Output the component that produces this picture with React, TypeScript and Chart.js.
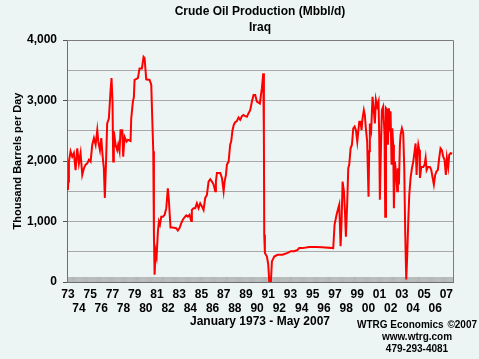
import React, { useEffect, useRef } from 'react';
import { Chart, registerables } from 'chart.js';

Chart.register(...registerables);

// ---- Data ----
// Decimal year of each reading
const periods: number[] = [
  1973.0, 1973.04, 1973.09, 1973.24, 1973.39, 1973.54, 1973.69, 1973.84, 1973.99, 1974.14,
  1974.29, 1974.44, 1974.59, 1974.74, 1974.89, 1975.04, 1975.19, 1975.34, 1975.49, 1975.64,
  1975.73, 1975.88, 1976.0, 1976.11, 1976.23, 1976.32, 1976.41, 1976.53, 1976.68, 1976.83,
  1976.92, 1977.01, 1977.07, 1977.13, 1977.28, 1977.43, 1977.52, 1977.64, 1977.73, 1977.88,
  1977.97, 1978.09, 1978.27, 1978.4, 1978.63, 1978.69, 1978.84, 1978.93, 1978.99, 1979.29,
  1979.44, 1979.65, 1979.8, 1979.89, 1980.04, 1980.34, 1980.49, 1980.58, 1980.67, 1980.73,
  1980.79, 1980.88, 1980.97, 1981.09, 1981.18, 1981.27, 1981.39, 1981.54, 1981.69, 1981.84,
  1981.98, 1982.07, 1982.22, 1982.43, 1982.73, 1982.88, 1983.03, 1983.18, 1983.33, 1983.48,
  1983.63, 1983.78, 1983.93, 1984.08, 1984.14, 1984.29, 1984.44, 1984.59, 1984.74, 1984.89,
  1985.04, 1985.19, 1985.34, 1985.49, 1985.64, 1985.79, 1985.94, 1986.09, 1986.24, 1986.3,
  1986.39, 1986.69, 1986.84, 1986.99, 1987.08, 1987.2, 1987.29, 1987.44, 1987.58, 1987.67,
  1987.79, 1987.91, 1988.03, 1988.18, 1988.33, 1988.48, 1988.63, 1988.78, 1988.93, 1989.08,
  1989.23, 1989.38, 1989.53, 1989.68, 1989.83, 1989.98, 1990.25, 1990.34, 1990.43, 1990.55,
  1990.61, 1990.64, 1990.7, 1990.88, 1991.0, 1991.09, 1991.24, 1991.33, 1991.54, 1991.84,
  1992.29, 1992.74, 1993.04, 1993.34, 1993.63, 1993.78, 1994.08, 1994.68, 1995.28, 1995.82,
  1996.84, 1996.96, 1997.14, 1997.29, 1997.38, 1997.5, 1997.59, 1997.68, 1997.8, 1997.89,
  1997.98, 1998.1, 1998.19, 1998.28, 1998.4, 1998.52, 1998.64, 1998.76, 1998.88, 1999.0,
  1999.09, 1999.18, 1999.3, 1999.38, 1999.47, 1999.59, 1999.68, 1999.77, 1999.89, 2000.01,
  2000.07, 2000.13, 2000.25, 2000.37, 2000.49, 2000.58, 2000.67, 2000.79, 2000.91, 2000.97,
  2001.03, 2001.12, 2001.21, 2001.33, 2001.45, 2001.51, 2001.58, 2001.69, 2001.75, 2001.84,
  2001.93, 2001.99, 2002.08, 2002.14, 2002.23, 2002.29, 2002.38, 2002.47, 2002.59, 2002.65,
  2002.74, 2002.83, 2002.89, 2003.01, 2003.13, 2003.22, 2003.31, 2003.4, 2003.49, 2003.58,
  2003.67, 2003.79, 2003.91, 2004.03, 2004.15, 2004.24, 2004.33, 2004.39, 2004.48, 2004.57,
  2004.63, 2004.75, 2004.93, 2005.05, 2005.14, 2005.23, 2005.35, 2005.53, 2005.65, 2005.77,
  2005.88, 2006.0, 2006.12, 2006.24, 2006.36, 2006.48, 2006.6, 2006.72, 2006.84, 2006.96,
  2007.05, 2007.17, 2007.26, 2007.38, 2007.53,
];

// Thousand barrels per day
const production: number[] = [
  1520, 1660, 1990, 2160, 2070, 2130, 1850, 2210, 1960, 2130,
  1770, 1880, 1940, 1960, 2020, 1990, 2270, 2380, 2270, 2510,
  2320, 2180, 2380, 2100, 1880, 1390, 1880, 2620, 2700, 3150,
  3370, 2980, 1990, 2490, 2270, 2180, 2270, 2160, 2510, 2510,
  2070, 2400, 2320, 2350, 2330, 2700, 2980, 3060, 3340, 3370,
  3530, 3530, 3720, 3700, 3350, 3340, 3260, 2700, 2160, 780,
  120, 510, 420, 840, 1000, 950, 1080, 1080, 1110, 1220,
  1550, 1360, 900, 900, 890, 850, 890, 970, 1030, 1070,
  1100, 1080, 1110, 1010, 1190, 1220, 1220, 1300, 1220, 1300,
  1250, 1190, 1390, 1440, 1660, 1700, 1660, 1610, 1500, 1660,
  1800, 1800, 1720, 1500, 1660, 1770, 1940, 1990, 2270, 2320,
  2510, 2600, 2640, 2660, 2720, 2680, 2740, 2760, 2740, 2730,
  2790, 2840, 2980, 3090, 3090, 2980, 2950, 3090, 3200, 3450,
  2430, 780, 480, 420, 290, 10, 10, 340, 420, 450,
  450, 480, 510, 510, 530, 560, 560, 580, 580, 575,
  560, 950, 1110, 1220, 1280, 590, 1000, 1660, 1500, 1170,
  750, 1330, 1880, 1940, 2210, 2270, 2540, 2570, 2510, 2320,
  2490, 2650, 2650, 2510, 2700, 2840, 2760, 2540, 2320, 1410,
  2160, 2620, 2510, 3060, 2820, 2620, 3010, 2900, 2980, 2430,
  1360, 2160, 2840, 2900, 2430, 1080, 2870, 2840, 2270, 2870,
  2490, 2820, 1940, 2540, 2270, 1220, 1990, 1830, 1500, 1880,
  1610, 2270, 2430, 2540, 2460, 1880, 780, 40, 450, 1000,
  1440, 1720, 1880, 1990, 2160, 2290, 1770, 2100, 2270, 2180,
  1720, 1900, 1900, 1940, 2050, 1850, 1900, 1900, 1850, 1720,
  1610, 1770, 1830, 1850, 2050, 2210, 2180, 2070, 2020, 1770,
  2050, 1900, 2100, 2130, 2120,
];

const titleLines: string[] = ['Crude Oil Production (Mbbl/d)', 'Iraq'];
const yAxisTitle = 'Thousand Barrels per Day';
const xAxisTitle = 'January 1973 - May 2007';
const creditLines: string[] = ['WTRG Economics', '\u00A92007', 'www.wtrg.com', '479-293-4081'];

const firstYear = 1973;
const xMin = 1972.92;
const xMax = 2007.6;
const yMax = 4000;
const yStep = 500;
const yLabelStep = 1000;

const FONT = "'Liberation Sans', Arial, Helvetica, sans-serif";
const BG = '#ECF5F4';

// monthly tick marks along the time axis
const monthTicks: number[] = [];
for (let i = 0; ; i++) {
  const v = (firstYear * 12 + i) / 12;
  if (v > xMax) break;
  monthTicks.push(v);
}

// inward-pointing monthly tick marks (Excel style), placed by the x scale
const insideTicks = {
  id: 'insideTicks',
  beforeDatasetsDraw(chart: any) {
    const { ctx, chartArea } = chart;
    const xs = chart.scales.x;
    const bottom = chartArea.bottom;
    ctx.save();
    ctx.strokeStyle = '#7e7e7e';
    ctx.lineWidth = 0.5;
    ctx.beginPath();
    for (const t of xs.ticks) {
      const px = xs.getPixelForValue(t.value);
      ctx.moveTo(px, bottom);
      ctx.lineTo(px, bottom - 5);
    }
    ctx.stroke();
    ctx.restore();
  },
};

const plotFrame = {
  id: 'plotFrame',
  afterDatasetsDraw(chart: any) {
    const { ctx, chartArea } = chart;
    const { left, right, top, bottom } = chartArea;
    ctx.save();
    ctx.strokeStyle = '#7c7c7c';
    ctx.lineWidth = 1;
    ctx.beginPath();
    ctx.moveTo(left, Math.round(top) + 0.5);
    ctx.lineTo(Math.round(right) + 0.5, Math.round(top) + 0.5);
    ctx.lineTo(Math.round(right) + 0.5, bottom);
    ctx.stroke();
    ctx.restore();
  },
};

const credits = {
  id: 'credits',
  afterDraw(chart: any) {
    const { ctx } = chart;
    ctx.save();
    ctx.fillStyle = '#000';
    ctx.font = `bold 10px ${FONT}`;
    ctx.textBaseline = 'alphabetic';
    ctx.textAlign = 'left';
    ctx.fillText(creditLines[0], 357, 327.5);
    ctx.textAlign = 'right';
    ctx.fillText(creditLines[1], 477, 327.5);
    ctx.textAlign = 'center';
    ctx.fillText(creditLines[2], 417, 340);
    ctx.fillText(creditLines[3], 417, 351.5);
    ctx.restore();
  },
};

export default function App() {
  const canvasRef = useRef<HTMLCanvasElement | null>(null);

  useEffect(() => {
    document.body.style.margin = '0';
    document.body.style.background = BG;
    const canvas = canvasRef.current;
    if (!canvas) return;

    const chart = new Chart(canvas, {
      type: 'line',
      data: {
        datasets: [
          {
            data: periods.map((x, i) => ({ x, y: production[i] })),
            borderColor: '#ff0000',
            borderWidth: 2,
            pointRadius: 0,
            tension: 0,
            fill: false,
          },
        ],
      },
      options: {
        responsive: false,
        animation: false,
        devicePixelRatio: 1,
        layout: { padding: { top: 0, left: 0, right: 26, bottom: 0 } },
        plugins: {
          legend: { display: false },
          tooltip: { enabled: false },
          title: {
            display: true,
            text: titleLines,
            fullSize: false,
            color: '#000',
            font: { family: FONT, size: 12, weight: 'bold', lineHeight: 16 / 12 },
            padding: { top: 4, bottom: 4 },
          },
        },
        scales: {
          x: {
            type: 'linear',
            min: xMin,
            max: xMax,
            afterBuildTicks: (scale: any) => {
              scale.ticks = monthTicks.map((value) => ({ value }));
            },
            afterFit: (scale: any) => {
              scale.height = 77;
            },
            grid: {
              display: true,
              drawOnChartArea: false,
              drawTicks: false,
            },
            border: { display: true, color: '#6e6e6e', width: 1 },
            ticks: {
              autoSkip: false,
              maxRotation: 0,
              minRotation: 0,
              padding: 6,
              color: '#000',
              font: { family: FONT, size: 12, weight: 'bold', lineHeight: 14 / 12 },
              callback: (value: any) => {
                const v = Number(value);
                const yr = Math.round(v);
                if (Math.abs(v - yr) > 1e-6) return '';
                const s = String(yr % 100).padStart(2, '0');
                return yr % 2 === 1 ? s : ['', s];
              },
            },
            title: {
              display: true,
              text: xAxisTitle,
              color: '#000',
              font: { family: FONT, size: 12, weight: 'bold' },
              padding: { top: 0, bottom: 30 },
            },
          },
          y: {
            type: 'linear',
            min: 0,
            max: yMax,
            afterFit: (scale: any) => {
              scale.width = 67;
            },
            grid: {
              color: '#a9a9a9',
              lineWidth: 1,
              drawTicks: true,
              tickLength: 4,
              tickColor: (ctx: any) =>
                ctx.tick && ctx.tick.value % yLabelStep === 0 ? '#555' : 'rgba(0,0,0,0)',
            },
            border: { display: true, color: '#6e6e6e', width: 1 },
            ticks: {
              stepSize: yStep,
              padding: 6,
              color: '#000',
              font: { family: FONT, size: 12, weight: 'bold' },
              callback: (value: any) => {
                const v = Number(value);
                return v % yLabelStep === 0 ? v.toLocaleString('en-US') : '';
              },
            },
            title: {
              display: true,
              text: yAxisTitle,
              color: '#000',
              font: { family: FONT, size: 11, weight: 'bold' },
              padding: { top: 11, bottom: 0 },
            },
          },
        },
      },
      plugins: [insideTicks, plotFrame, credits],
    } as any);

    return () => {
      chart.destroy();
    };
  }, []);

  return (
    <div style={{ width: 479, height: 359, background: BG, position: 'relative' }}>
      <canvas ref={canvasRef} width={479} height={359} style={{ display: 'block' }} />
    </div>
  );
}
